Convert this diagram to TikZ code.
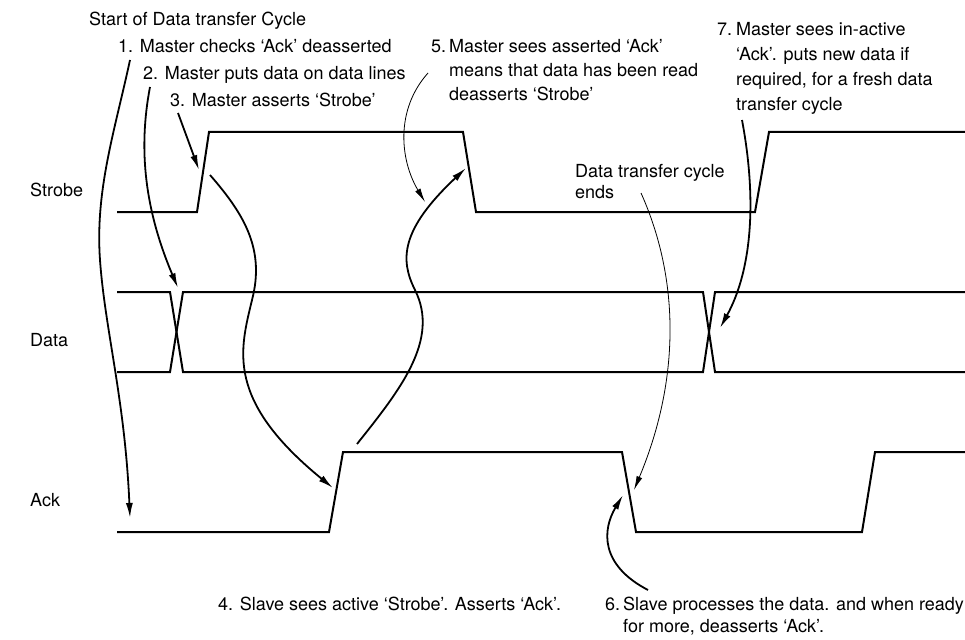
\documentclass[tikz,border=0pt]{standalone}
\usepackage{fontspec}
\setmainfont{TeX Gyre Heros}
\usetikzlibrary{arrows.meta}

\begin{document}
\begin{tikzpicture}[
    x=1pt, y=-1pt,
    >={Latex[length=15pt,width=7pt]},
    sig/.style={line width=2pt, line join=miter},
    note/.style={anchor=base west, inner sep=0pt, align=left, font=\fontsize{18}{24}\selectfont},
    pointer/.style={->, line width=1.8pt},
    thinpointer/.style={-{Latex[length=14pt,width=6pt]}, line width=0.8pt}
]
\useasboundingbox (0,0) rectangle (965,639);

% Signal names
\node[note] (strobelbl) at (30,196) {Strobe};
\node[note] (datalbl) at (30,346) {Data};
\node[note] (acklbl) at (30,506) {Ack};

% Waveforms
\draw[sig] (117,212) -- (197,212) -- (209,132) -- (463,132) -- (476,212) -- (755,212) -- (769,132) -- (966,132);
\draw[sig] (117,292) -- (170,292) -- (183,372) -- (703,372) -- (715,292) -- (966,292);
\draw[sig] (117,372) -- (170,372) -- (183,292) -- (703,292) -- (715,372) -- (966,372);
\draw[sig] (117,532) -- (329,532) -- (343,452) -- (622,452) -- (636,532) -- (862,532) -- (875,452) -- (966,452);

% Notes (multi-line ones sit on their last baseline)
\node[note] (start) at (89,26) {Start of Data transfer Cycle};
\node[note] (n1) at (118,53) {1. Master checks ‘Ack’ deasserted};
\node[note] (n2) at (143,80) {2. Master puts data on data lines};
\node[note] (n3) at (170,107) {3. Master asserts ‘Strobe’};
\node[note] (n4) at (218,610) {4. Slave sees active ‘Strobe’. Asserts ‘Ack’.};
\node[note] (n5) at (431,53) {5.};
\node[note] (t5) at (449,101) {Master sees asserted ‘Ack’\\means that data has been read\\deasserts ‘Strobe’};
\node[note] (n6) at (605,610) {6.};
\node[note, font=\fontsize{18}{22}\selectfont] (t6) at (623,632) {Slave processes the data. and when ready\\for more, deasserts ‘Ack’.};
\node[note] (n7) at (717,36) {7.};
\node[note, font=\fontsize{18}{25}\selectfont] (t7) at (736,111) {Master sees in-active\\‘Ack’. puts new data if\\required, for a fresh data\\transfer cycle};
\node[note, font=\fontsize{18}{21}\selectfont] (cycleend) at (575,198) {Data transfer cycle\\ends};

% Pointer ends
\coordinate (p1s) at (130,60);   \coordinate (p1e) at (130,518);
\coordinate (p2s) at (150,87);   \coordinate (p2e) at (178,288);
\coordinate (p3s) at (178,113);  \coordinate (p3e) at (199,170);
\coordinate (p4s) at (210,175);  \coordinate (p4e) at (333,488);
\coordinate (p5s) at (357,444);  \coordinate (p5e) at (466,168);
\coordinate (q5s) at (428,73);   \coordinate (q5e) at (425,202);
\coordinate (q6s) at (641,193);  \coordinate (q6e) at (634,490);
\coordinate (p6s) at (648,590);  \coordinate (p6e) at (623,495);
\coordinate (p7s) at (742,120);  \coordinate (p7e) at (720,328);

% Pointers
\draw[pointer] (p1s) .. controls (115,130) and (95,190) .. (100,260) .. controls (105,330) and (125,400) .. (p1e);
\draw[pointer] (p2s) .. controls (138,150) and (145,210) .. (p2e);
\draw[pointer] (p3s) -- (p3e);
\draw[pointer] (p4s) .. controls (245,215) and (265,250) .. (252,300) .. controls (240,350) and (225,400) .. (p4e);
\draw[pointer] (p5s) .. controls (400,390) and (440,340) .. (415,290) .. controls (400,260) and (400,230) .. (p5e);
\draw[thinpointer] (q5s) .. controls (395,110) and (400,160) .. (q5e);
\draw[thinpointer] (q6s) .. controls (680,280) and (680,380) .. (q6e);
\draw[pointer] (p6s) .. controls (600,565) and (602,530) .. (p6e);
\draw[pointer] (p7s) .. controls (757,200) and (752,270) .. (p7e);

\end{tikzpicture}
\end{document}
